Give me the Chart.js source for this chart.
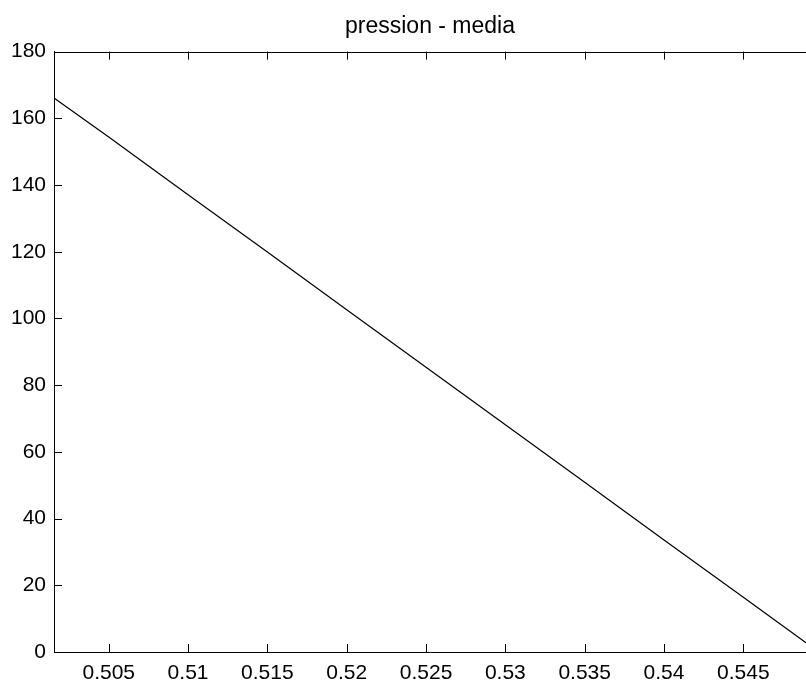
<!DOCTYPE html>
<html>
<head>
<meta charset="utf-8">
<script src="https://cdn.jsdelivr.net/npm/chart.js@4/dist/chart.umd.min.js"></script>
<style>
  html, body { margin: 0; padding: 0; background: #fff; overflow: hidden; }
  canvas { display: block; }
</style>
</head>
<body>
<canvas id="chart" width="806" height="685"></canvas>
<script>
// values
const pressionX = [0.50155, 0.505, 0.51, 0.515, 0.52, 0.525, 0.53, 0.535, 0.54, 0.545, 0.549];
const pressionY = [166.1, 154.4, 137.1, 119.9, 102.6, 85.4, 68.1, 50.9, 33.6, 16.4, 2.6];
const xTickStep = 0.005;
const yTickStep = 20;

const tickFont = { family: "'Liberation Sans', Arial, sans-serif", size: 21 };

// matlab style frame: top line + inward tick marks
const matlabFrame = {
  id: 'matlabFrame',
  afterDatasetsDraw(chart) {
    const { ctx, chartArea, scales } = chart;
    const { left, right, top, bottom } = chartArea;
    ctx.save();
    ctx.strokeStyle = '#000';
    ctx.lineWidth = 1;
    ctx.beginPath();
    ctx.moveTo(left, Math.round(top) + 0.5);
    ctx.lineTo(right, Math.round(top) + 0.5);
    scales.x.ticks.forEach((t) => {
      const px = Math.round(scales.x.getPixelForValue(t.value)) + 0.5;
      ctx.moveTo(px, bottom);
      ctx.lineTo(px, bottom - 8);
      ctx.moveTo(px, top);
      ctx.lineTo(px, top + 8);
    });
    scales.y.ticks.forEach((t) => {
      const py = Math.round(scales.y.getPixelForValue(t.value)) + 0.5;
      ctx.moveTo(left, py);
      ctx.lineTo(left + 8, py);
    });
    ctx.stroke();
    ctx.restore();
  },
};

new Chart(document.getElementById('chart'), {
  type: 'line',
  data: {
    datasets: [
      {
        data: pressionX.map((x, i) => ({ x, y: pressionY[i] })),
        borderColor: '#000',
        borderWidth: 1.2,
        pointRadius: 0,
        tension: 0,
        fill: false,
      },
    ],
  },
  options: {
    responsive: false,
    animation: false,
    layout: { padding: 0 },
    plugins: {
      legend: { display: false },
      tooltip: { enabled: false },
      title: {
        display: true,
        text: 'pression - media',
        fullSize: false,
        color: '#000',
        font: { family: "'Liberation Sans', Arial, sans-serif", size: 23, weight: 'normal' },
        padding: { top: 13, bottom: 11 },
      },
    },
    scales: {
      x: {
        type: 'linear',
        min: 0.50155,
        max: 0.54895,
        grid: { display: false, drawTicks: false },
        border: { display: true, color: '#000', width: 1 },
        ticks: {
          stepSize: xTickStep,
          includeBounds: false,
          color: '#000',
          font: tickFont,
          padding: 9,
          maxRotation: 0,
          autoSkip: false,
          callback: (v) => String(Number(v.toFixed(3))),
        },
        afterFit(scale) { scale.height = 33; },
      },
      y: {
        min: 0,
        max: 180,
        grid: { display: false, drawTicks: false },
        border: { display: true, color: '#000', width: 1 },
        ticks: {
          stepSize: yTickStep,
          color: '#000',
          font: tickFont,
          padding: 8,
        },
        afterFit(scale) { scale.width = 54; },
      },
    },
  },
  plugins: [matlabFrame],
});
</script>
</body>
</html>
